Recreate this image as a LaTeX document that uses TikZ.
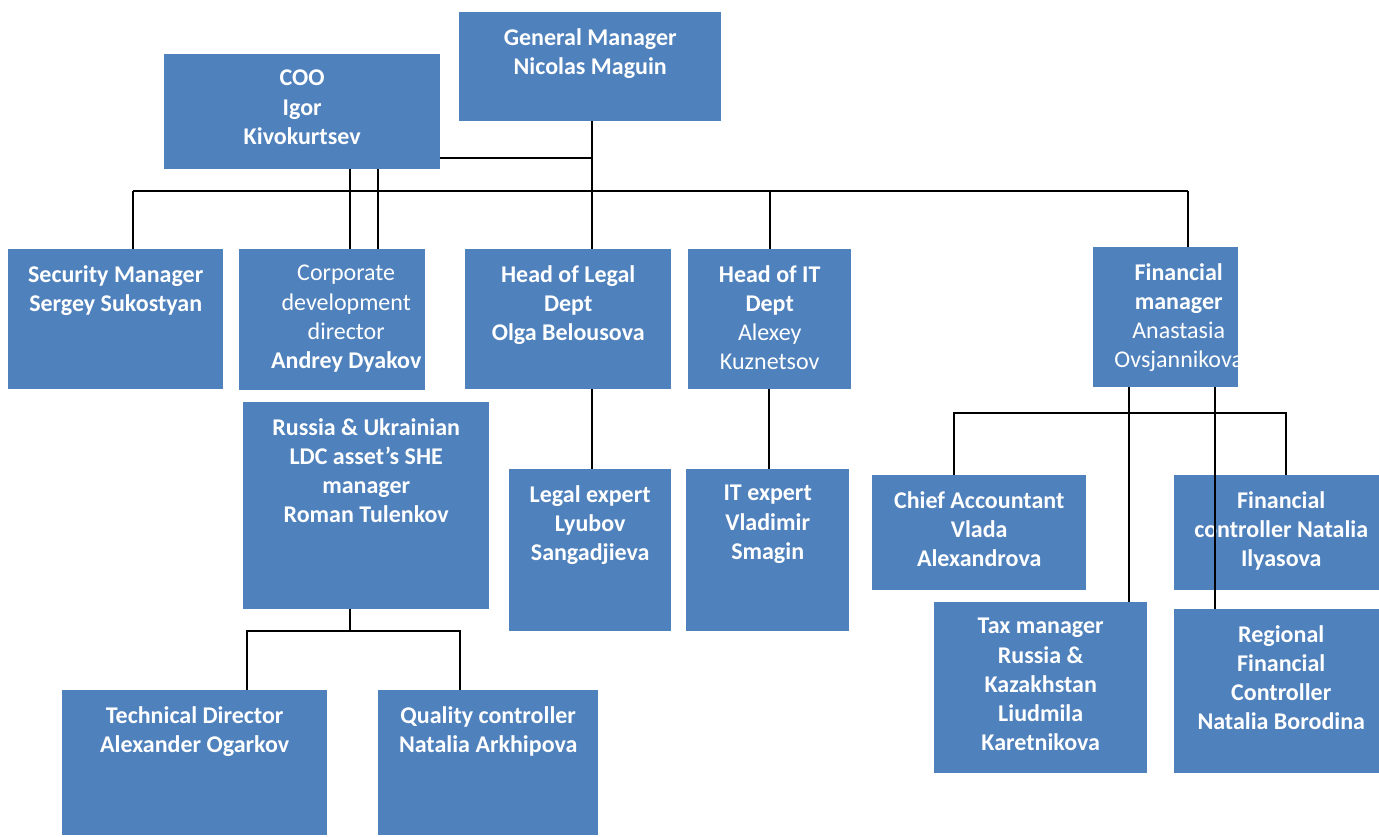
\documentclass[tikz,border=0pt]{standalone}
\usepackage{fontspec}
\setmainfont{Carlito}
\definecolor{boxblue}{HTML}{4F81BD}
\tikzset{
  box/.style={fill=boxblue, draw=none, inner sep=0pt, anchor=north west},
  txt/.style={text=white, align=center, anchor=north, inner sep=0pt,
    font=\fontsize{24}{29.3}\selectfont\bfseries, yshift=-16pt},
  conn/.style={line width=2pt, black},
}
\begin{document}
\begin{tikzpicture}[x=1pt,y=-1pt]
\useasboundingbox (0,0) rectangle (1379,836);
% boxes
\node[box, minimum width=262pt, minimum height=109pt] (gm) at (459,12) {};
\node[box, minimum width=276pt, minimum height=115pt] (coo) at (164,54) {};
\node[box, minimum width=215pt, minimum height=140pt] (sec) at (8,249) {};
\node[box, minimum width=186pt, minimum height=141pt] (cdd) at (239,249) {};
\node[box, minimum width=206pt, minimum height=140pt] (legal) at (465,249) {};
\node[box, minimum width=163pt, minimum height=140pt] (it) at (688,249) {};
\node[box, minimum width=145pt, minimum height=140pt] (fin) at (1093,247) {};
\node[box, minimum width=246pt, minimum height=207pt] (ru) at (243,402) {};
\node[box, minimum width=162pt, minimum height=162pt] (lex) at (509,469) {};
\node[box, minimum width=163pt, minimum height=162pt] (itx) at (686,469) {};
\node[box, minimum width=214pt, minimum height=115pt] (ca) at (872,475) {};
\node[box, minimum width=214pt, minimum height=115pt] (fc) at (1174,475) {};
\node[box, minimum width=213pt, minimum height=171pt] (tax) at (934,602) {};
\node[box, minimum width=214pt, minimum height=164pt] (rfc) at (1174,609) {};
\node[box, minimum width=265pt, minimum height=145pt] (td) at (62,690) {};
\node[box, minimum width=220pt, minimum height=145pt] (qc) at (378,690) {};
% texts
\node[txt] (gm-t) at (gm.north) {General Manager\\Nicolas Maguin};
\node[txt] (coo-t) at (coo.north) {COO\\Igor\\Kivokurtsev};
\node[txt] (sec-t) at (sec.north) {Security Manager\\Sergey Sukostyan};
\node[txt, xshift=14pt] (cdd-t) at (cdd.north) {\textmd{Corporate}\\\textmd{development}\\\textmd{director}\\Andrey Dyakov};
\node[txt] (legal-t) at (legal.north) {Head of Legal\\Dept\\Olga Belousova};
\node[txt] (it-t) at (it.north) {Head of IT\\Dept\\\textmd{Alexey}\\\textmd{Kuznetsov}};
\node[txt, xshift=13pt] (fin-t) at (fin.north) {Financial\\manager\\\textmd{Anastasia}\\\textmd{Ovsjannikova}};
\node[txt] (ru-t) at (ru.north) {Russia \& Ukrainian\\LDC asset's SHE\\manager\\Roman Tulenkov};
\node[txt] (lex-t) at (lex.north) {Legal expert\\Lyubov\\Sangadjieva};
\node[txt] (itx-t) at (itx.north) {IT expert\\Vladimir\\Smagin};
\node[txt] (ca-t) at (ca.north) {Chief Accountant\\Vlada\\Alexandrova};
\node[txt] (fc-t) at (fc.north) {Financial\\controller Natalia\\Ilyasova};
\node[txt] (tax-t) at (tax.north) {Tax manager\\Russia \&\\Kazakhstan\\Liudmila\\Karetnikova};
\node[txt] (rfc-t) at (rfc.north) {Regional\\Financial\\Controller\\Natalia Borodina};
\node[txt] (td-t) at (td.north) {Technical Director\\Alexander Ogarkov};
\node[txt] (qc-t) at (qc.north) {Quality controller\\Natalia Arkhipova};
% junction coordinates
\coordinate (gmx) at (592,191);
\coordinate (cj) at (592,158);
\coordinate (busL) at (133,191);
\coordinate (busR) at (1188,191);
\coordinate (itj) at (770,191);
\coordinate (c1) at (350,191);
\coordinate (c2) at (378,191);
\coordinate (rj) at (350,631);
\coordinate (rl) at (247,631);
\coordinate (rr) at (460,631);
\coordinate (lj) at (592,430);
\coordinate (itj2) at (769,430);
\coordinate (f1) at (1129,413);
\coordinate (f2) at (1215,413);
\coordinate (fl) at (954,413);
\coordinate (fr) at (1286,413);
% connectors
\draw[conn] (gmx |- gm.south) -- (gmx |- legal.north);
\draw[conn] (coo.east |- cj) -- (cj);
\draw[conn] (busL) -- (busR);
\draw[conn] (busL) -- (busL |- sec.north);
\draw[conn] (busR) -- (busR |- fin.north);
\draw[conn] (itj) -- (itj |- it.north);
\draw[conn] (c1 |- coo.south) -- (c1 |- cdd.north);
\draw[conn] (c2 |- coo.south) -- (c2 |- cdd.north);
\draw[conn] (rj |- ru.south) -- (rj);
\draw[conn] (rl |- td.north) -- (rl) -- (rr) -- (rr |- qc.north);
\draw[conn] (lj |- legal.south) -- (lj |- lex.north);
\draw[conn] (itj2 |- it.south) -- (itj2 |- itx.north);
\draw[conn] (f1 |- fin.south) -- (f1 |- tax.north);
\draw[conn] (f2 |- fin.south) -- (f2 |- rfc.north);
\draw[conn] (fl |- ca.north) -- (fl) -- (fr) -- (fr |- fc.north);
\end{tikzpicture}
\end{document}
